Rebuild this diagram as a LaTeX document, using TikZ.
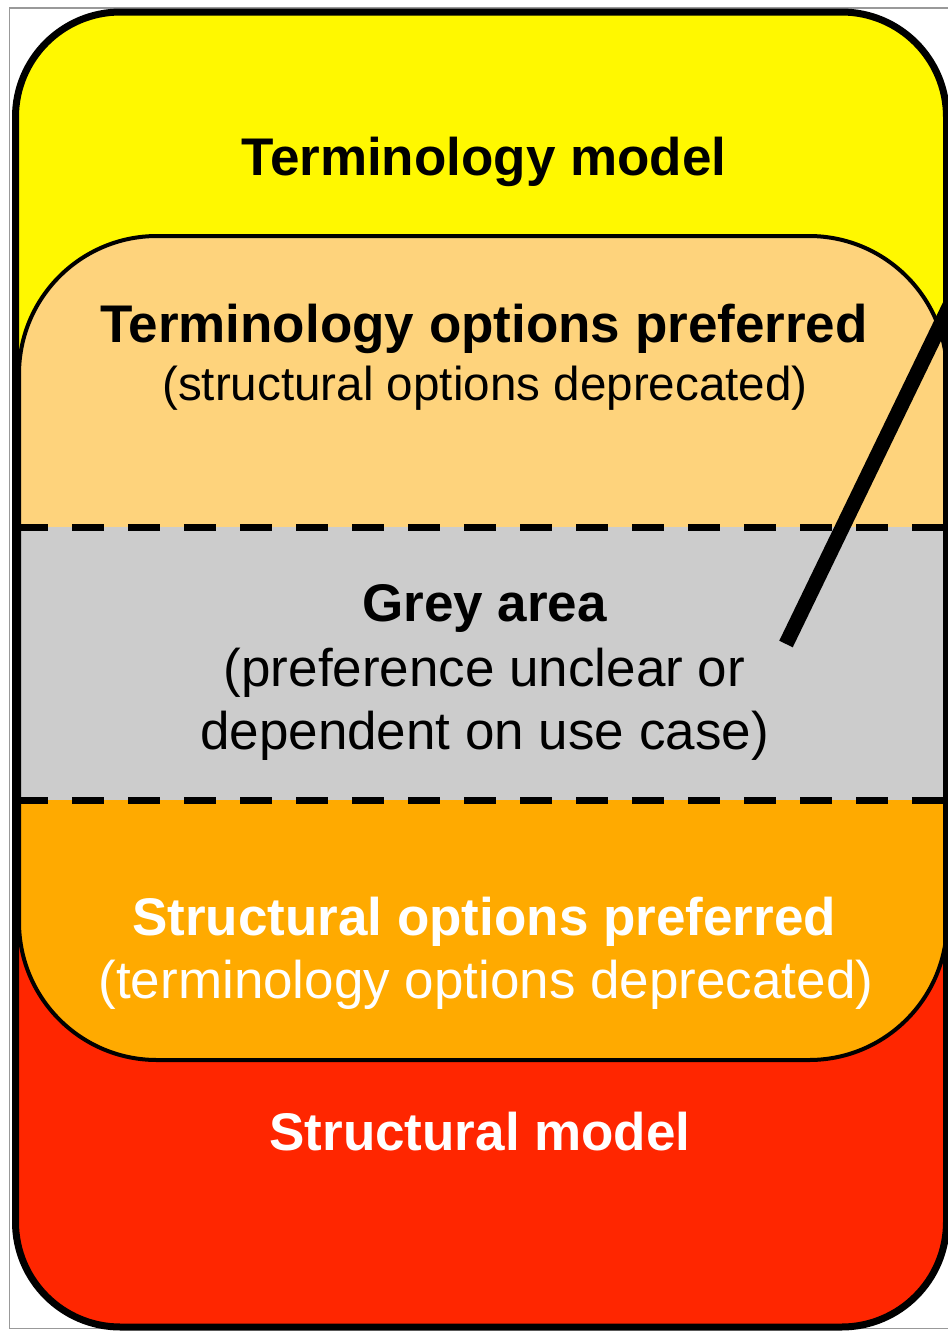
\documentclass[tikz,border=0pt]{standalone}
\usepackage{fontspec}
\setmainfont{Liberation Sans}
\definecolor{cyellow}{HTML}{FFF800}
\definecolor{cred}{HTML}{FF2600}
\definecolor{clight}{HTML}{FED37C}
\definecolor{corange}{HTML}{FFAA00}
\definecolor{cgrey}{HTML}{CCCCCC}
\definecolor{cframe}{HTML}{999999}
\tikzset{
  bigbold/.style={font=\fontsize{53}{63}\selectfont\bfseries, anchor=base, inner sep=0pt},
  bigreg/.style={font=\fontsize{53}{63}\selectfont, anchor=base, inner sep=0pt},
  midreg/.style={font=\fontsize{47.6}{56}\selectfont, anchor=base, inner sep=0pt},
  dashline/.style={line width=7pt, dash pattern=on 32pt off 24pt, dash phase=0pt},
  outerborder/.style={line width=7pt},
  innerborder/.style={line width=4pt},
  pointer/.style={line width=15pt},
}
\begin{document}
\begin{tikzpicture}[x=1pt,y=-1pt]
\useasboundingbox (0,0) rectangle (948,1331);
\fill[white] (0,0) rectangle (948,1331);
% thin grey frame
\draw[cframe, line width=1.5pt] (9.5,8) rectangle (960,1328.5);
% outer rounded rectangle fill: yellow top, red bottom
\begin{scope}
  \clip[rounded corners=105pt] (15.5,12) rectangle (946.5,1327);
  \fill[cyellow] (0,0) rectangle (948,670);
  \fill[cred] (0,670) rectangle (948,1331);
\end{scope}
% inner rounded rectangle
\begin{scope}
  \clip[rounded corners=138pt] (19,236) rectangle (947,1060);
  \fill[clight] (0,200) rectangle (948,527);
  \fill[cgrey] (0,527) rectangle (948,800);
  \fill[corange] (0,800) rectangle (948,1100);
\end{scope}
\draw[innerborder, rounded corners=138pt] (19,236) rectangle (947,1060);
% dashed separators
\coordinate (d1l) at (16,527);
\coordinate (d1r) at (948,527);
\coordinate (d2l) at (16,800);
\coordinate (d2r) at (948,800);
\draw[dashline] (d1l) -- (d1r);
\draw[dashline] (d2l) -- (d2r);
% outer border
\draw[outerborder, rounded corners=105pt] (15.5,12) rectangle (946.5,1327);
% pointer line
\coordinate (pa) at (786,644);
\coordinate (pb) at (980,243);
\draw[pointer] (pa) -- (pb);
% texts
\node[bigbold] (tm) at (484,175) {Terminology model};
\node[bigbold] (top) at (484,342) {Terminology options preferred};
\node[midreg] (sod) at (485,400) {(structural options deprecated)};
\node[bigbold] (ga) at (484.5,621) {Grey area};
\node[bigreg] (pu) at (484.5,686) {(preference unclear or};
\node[bigreg] (du) at (484.5,749) {dependent on use case)};
\node[bigbold, text=white] (sop) at (484,935) {Structural options preferred};
\node[bigreg, text=white] (tod) at (486,998) {(terminology options deprecated)};
\node[bigbold, text=white] (sm) at (480,1150) {Structural model};
\end{tikzpicture}
\end{document}
